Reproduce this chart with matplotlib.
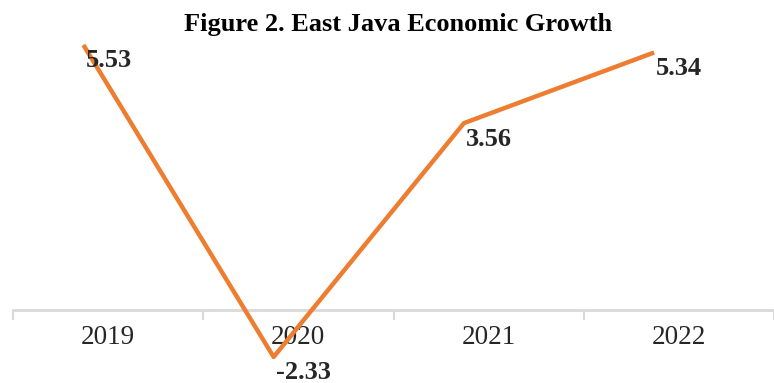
import matplotlib
matplotlib.use("Agg")
import matplotlib.pyplot as plt
import numpy as np

years = ["2019", "2020", "2021", "2022"]
growth = [5.53, -2.33, 3.56, 5.34]
value_labels = ["5.53", "-2.33", "3.56", "5.34"]
title = "Figure 2. East Java Economic Growth"

plt.rcParams['font.family'] = ['Liberation Serif', 'DejaVu Serif']

fig = plt.figure(figsize=(7.74, 3.83), dpi=100)
ax = fig.add_axes([13/774, 0.04, 1 - 13/774, 0.8817])

cat = np.arange(len(years))
line_x = cat - 0.13
ax.plot(line_x, growth, color="#ED7D31", lw=3.2, solid_capstyle='butt', clip_on=False, zorder=3)
for x, y, t in zip(line_x, growth, value_labels):
    ax.annotate(t, (x, y), xytext=(1.5, -11.5), textcoords='offset points',
                ha='left', va='center', fontsize=19, fontweight='bold', color='#262626',
                annotation_clip=False, zorder=4)

ax.set_xlim(-0.5, -0.5 + 761/193.5)
ax.set_ylim(-2.6, 5.907)

for s in ['top', 'right', 'left']:
    ax.spines[s].set_visible(False)
ax.spines['bottom'].set_position(('data', -1.15))
ax.spines['bottom'].set_color('#d9d9d9')
ax.spines['bottom'].set_linewidth(2)
ax.set_yticks([])

ax.set_xticks(np.arange(-0.5, len(years), 1.0))
ax.set_xticklabels([])
ax.tick_params(axis='x', which='major', length=7, width=1.5, color='#d9d9d9', direction='out')
ax.set_xticks(cat, minor=True)
ax.set_xticklabels(years, minor=True, fontsize=19.5, color='#262626')
ax.tick_params(axis='x', which='minor', length=0, pad=11)

fig.text(398/774, 1 - 25/383, title, ha='center', va='center', fontsize=19, fontweight='bold')

fig.savefig("out.png", dpi=100)
